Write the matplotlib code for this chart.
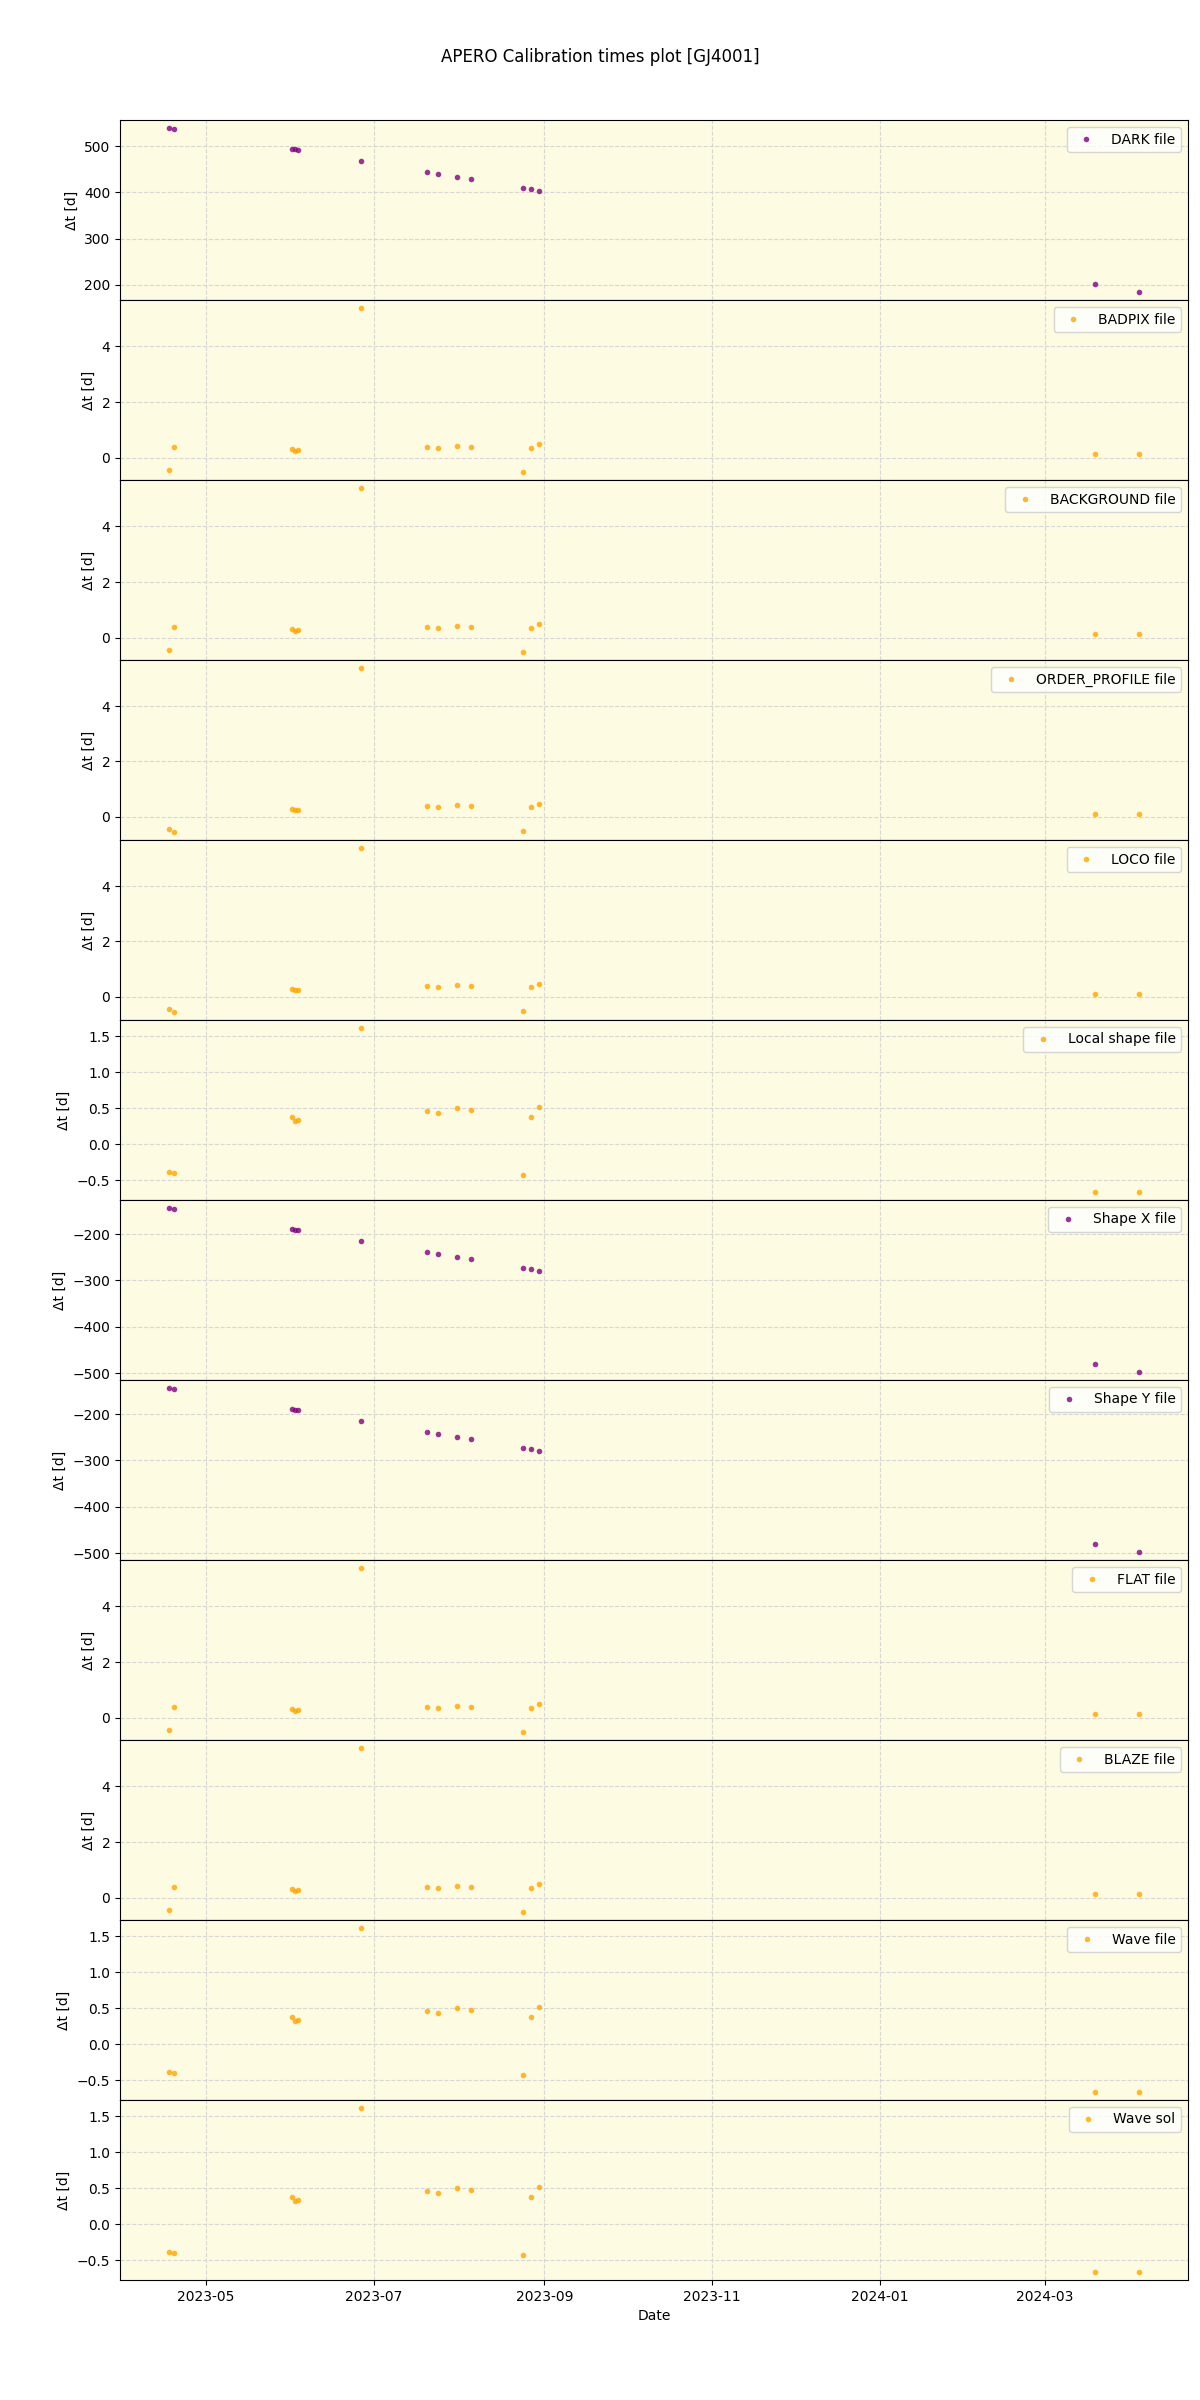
import matplotlib
matplotlib.use("Agg")
import matplotlib.pyplot as plt
import matplotlib.dates as mdates
import pandas as pd

dates = ['2023-04-17 10:00', '2023-04-19 07:00', '2023-06-01 03:00', '2023-06-02 05:00',
         '2023-06-03 12:00', '2023-06-26 10:00', '2023-07-20 12:00', '2023-07-24 10:00',
         '2023-07-31 07:00', '2023-08-05 12:00', '2023-08-24 10:00', '2023-08-27 05:00',
         '2023-08-30 05:00', '2024-03-19 07:00', '2024-04-04 07:00']

dark = [539, 537, 494, 493, 491, 468, 444, 440, 433, 429, 409, 407, 403, 202, 185]
badpix = [-0.43, 0.39, 0.30, 0.26, 0.28, 5.36, 0.39, 0.35, 0.44, 0.39, -0.50, 0.35, 0.49, 0.15, 0.15]
background = [-0.43, 0.39, 0.30, 0.26, 0.28, 5.36, 0.39, 0.35, 0.44, 0.39, -0.50, 0.35, 0.49, 0.15, 0.15]
order_profile = [-0.43, -0.54, 0.29, 0.23, 0.25, 5.37, 0.40, 0.36, 0.43, 0.40, -0.50, 0.36, 0.47, 0.12, 0.10]
loco = [-0.43, -0.54, 0.29, 0.23, 0.25, 5.37, 0.40, 0.36, 0.43, 0.40, -0.50, 0.36, 0.47, 0.12, 0.10]
local_shape = [-0.38, -0.40, 0.38, 0.32, 0.33, 1.61, 0.46, 0.43, 0.50, 0.47, -0.42, 0.38, 0.52, -0.66, -0.66]
shape_x = [-144, -146, -189, -190, -192, -215, -239, -243, -250, -254, -273, -276, -280, -481, -497]
shape_y = [-144, -146, -189, -190, -192, -215, -239, -243, -250, -254, -273, -276, -280, -481, -497]
flat = [-0.43, 0.39, 0.30, 0.26, 0.28, 5.36, 0.39, 0.35, 0.44, 0.39, -0.50, 0.35, 0.49, 0.15, 0.15]
blaze = [-0.43, 0.39, 0.30, 0.26, 0.28, 5.36, 0.39, 0.35, 0.44, 0.39, -0.50, 0.35, 0.49, 0.15, 0.15]
wave_file = [-0.38, -0.40, 0.38, 0.32, 0.33, 1.61, 0.46, 0.43, 0.50, 0.47, -0.42, 0.38, 0.52, -0.66, -0.66]
wave_sol = [-0.38, -0.40, 0.38, 0.32, 0.33, 1.61, 0.46, 0.43, 0.50, 0.47, -0.42, 0.38, 0.52, -0.66, -0.66]

labels = ['DARK file', 'BADPIX file', 'BACKGROUND file', 'ORDER_PROFILE file', 'LOCO file',
          'Local shape file', 'Shape X file', 'Shape Y file', 'FLAT file', 'BLAZE file',
          'Wave file', 'Wave sol']
series = [dark, badpix, background, order_profile, loco, local_shape, shape_x, shape_y,
          flat, blaze, wave_file, wave_sol]
colors = ['purple', 'orange', 'orange', 'orange', 'orange', 'orange', 'purple', 'purple',
          'orange', 'orange', 'orange', 'orange']

x = pd.to_datetime(dates)

fig, axes = plt.subplots(len(labels), 1, figsize=(12, 24), dpi=100, sharex=True)
fig.subplots_adjust(left=0.1, right=0.99, top=0.95, bottom=0.05, hspace=0)

for ax, lab, vals, col in zip(axes, labels, series, colors):
    ax.set_facecolor('#fdfbe1')
    ax.plot(x, vals, 'o', color=col, alpha=0.8, ms=4, mec='none', label=lab)
    ax.grid(True, linestyle='--', color='lightgray', alpha=0.9)
    ax.set_axisbelow(True)
    ax.set_ylabel('Δt [d]')
    ax.legend(loc='upper right')

axes[-1].set_xlabel('Date')
axes[-1].xaxis.set_major_locator(mdates.MonthLocator(bymonth=[1, 3, 5, 7, 9, 11]))
axes[-1].xaxis.set_major_formatter(mdates.DateFormatter('%Y-%m'))

fig.suptitle('APERO Calibration times plot [GJ4001]')
fig.savefig('out.png')
